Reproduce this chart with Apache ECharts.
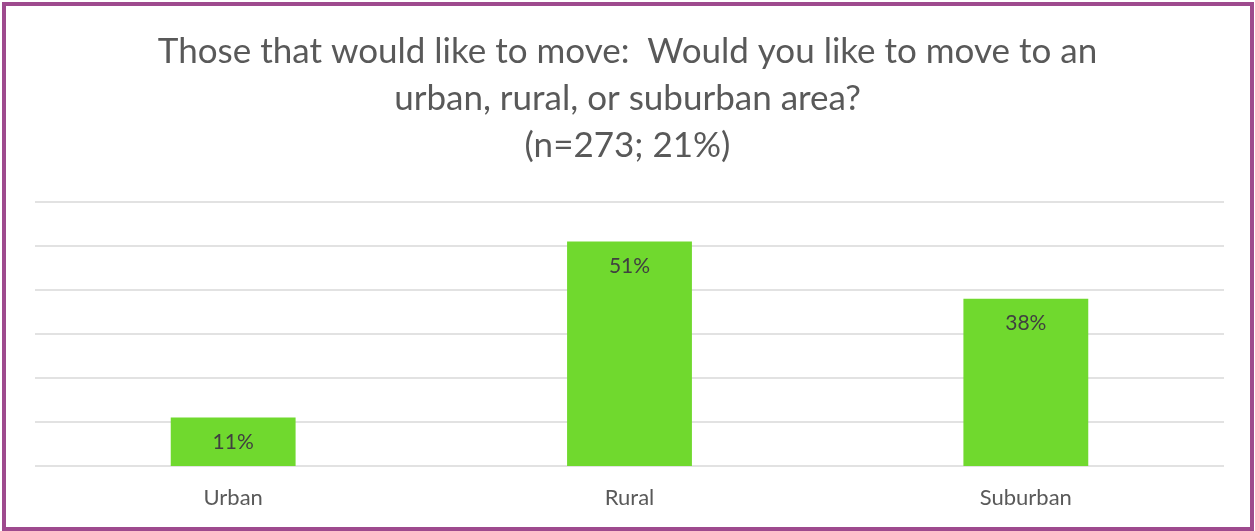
<!DOCTYPE html>
<html>
<head>
<meta charset="utf-8">
<script src="https://cdn.jsdelivr.net/npm/echarts@6/dist/echarts.min.js"></script>
<style>
html,body{margin:0;padding:0;background:#fff;}
#chart{width:1255px;height:531px;}
</style>
</head>
<body>
<div id="chart"></div>
<script>
const titleText = "Those that would like to move:  Would you like to move to an\nurban, rural, or suburban area?\n(n=273; 21%)";
const categories = ["Urban", "Rural", "Suburban"];
const values = [11, 51, 38];
const yTicks = [0, 10, 20, 30, 40, 50, 60];

const chart = echarts.init(document.getElementById('chart'), null, {renderer: 'canvas'});
chart.setOption({
  animation: false,
  backgroundColor: '#ffffff',
  title: {
    text: titleText,
    left: 'center',
    top: 23,
    textStyle: {
      fontFamily: 'Lato, "Open Sans", sans-serif',
      fontSize: 35,
      fontWeight: 'normal',
      color: '#595959',
      lineHeight: 47
    }
  },
  graphic: [{
    type: 'rect',
    shape: {x: 4, y: 4, width: 1248, height: 525},
    style: {fill: 'none', stroke: '#9E4A8E', lineWidth: 4},
    silent: true
  }],
  grid: {left: 35, right: 31, top: 202, bottom: 65},
  xAxis: {
    type: 'category',
    data: categories,
    axisLine: {show: false},
    axisTick: {show: false},
    axisLabel: {
      margin: 21,
      fontFamily: 'Lato, "Open Sans", sans-serif',
      fontSize: 22,
      color: '#595959'
    }
  },
  yAxis: {
    type: 'value',
    min: yTicks[0],
    max: yTicks[yTicks.length - 1],
    interval: 10,
    axisLabel: {show: false},
    axisLine: {show: false},
    axisTick: {show: false},
    splitLine: {lineStyle: {color: '#d9d9d9', width: 1.5}}
  },
  series: [{
    type: 'bar',
    data: values,
    barWidth: '31.5%',
    itemStyle: {color: '#70D92E'},
    label: {
      show: true,
      position: 'insideTop',
      distance: 14,
      formatter: '{c}%',
      fontFamily: 'Lato, "Open Sans", sans-serif',
      fontSize: 21,
      color: '#404040'
    }
  }]
});
</script>
</body>
</html>
